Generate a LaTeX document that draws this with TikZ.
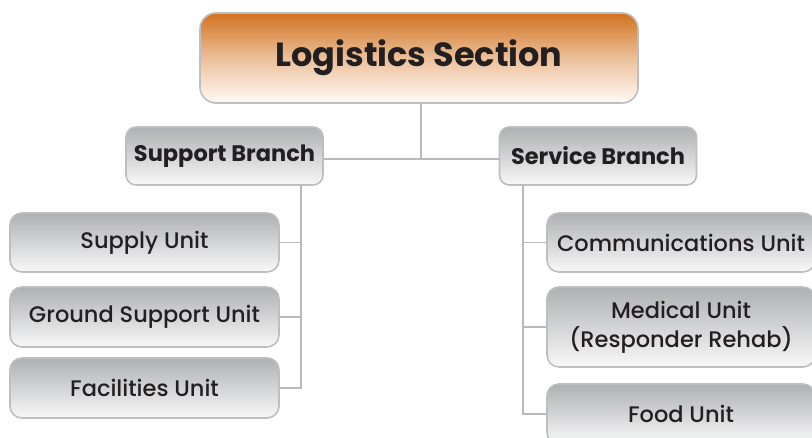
\documentclass[tikz,border=0pt]{standalone}
\usepackage{fontspec}
\setmainfont{Poppins}
\newfontfamily\medfam{Poppins Medium}
\definecolor{edgegray}{HTML}{BEBEC0}
\definecolor{linegray}{HTML}{B9B9BC}
\definecolor{topgray}{HTML}{AFB0B3}
\definecolor{botgray}{HTML}{F8F8F8}
\definecolor{toporange}{HTML}{D2721F}
\definecolor{botorange}{HTML}{FFFAF5}
\definecolor{txt}{HTML}{231F20}
\tikzset{
  boxbase/.style={draw=edgegray, line width=1.6pt, inner sep=0pt, align=center, text=txt},
  grayshade/.style={top color=topgray, bottom color=botgray},
  headbox/.style={boxbase, rounded corners=16pt, top color=toporange, bottom color=botorange,
     middle color={toporange!45!white}, minimum width=438pt, minimum height=90pt,
     font=\bfseries\fontsize{33.5}{38}\selectfont},
  branchbox/.style={boxbase, grayshade, rounded corners=10pt, minimum width=197pt, minimum height=58pt,
     font=\bfseries\fontsize{22.5}{26}\selectfont},
  unitbox/.style={boxbase, grayshade, rounded corners=12pt, minimum width=269pt,
     font=\medfam\fontsize{22.5}{29}\selectfont},
  conn/.style={draw=linegray, line width=1.8pt}
}
\begin{document}
\begin{tikzpicture}[x=1pt,y=-1pt]
\useasboundingbox (0,0) rectangle (812,438);
\clip (0,0) rectangle (812,438);
\node[headbox] (head) at (419,58) {Logistics Section};
\node[branchbox] (support) at (224.5,156) {Support Branch};
\node[branchbox] (service) at (598,156) {Service Branch};
\node[unitbox, minimum height=59pt] (supply) at (144.5,242.5) {Supply Unit};
\node[unitbox, minimum height=60pt] (ground) at (144.5,317) {Ground Support Unit};
\node[unitbox, minimum height=60pt] (facil) at (144.5,388) {Facilities Unit};
\node[unitbox, minimum width=268pt, minimum height=59pt] (comm) at (681,242.5) {Communications Unit};
\node[unitbox, minimum width=268pt, minimum height=80pt] (medical) at (681,327) {Medical Unit\\(Responder Rehab)};
\node[unitbox, minimum width=268pt, minimum height=60pt] (food) at (681,414) {Food Unit};
\coordinate (hj) at (421,159);
\coordinate (sv) at (301,185);
\coordinate (rv) at (523,185);
\draw[conn] (head.south -| hj) -- (hj);
\draw[conn] (support.east |- hj) -- (service.west |- hj);
\draw[conn] (sv) |- (facil.east);
\draw[conn] (supply.east) -- (supply.east -| sv);
\draw[conn] (ground.east) -- (ground.east -| sv);
\draw[conn] (rv) |- (food.west);
\draw[conn] (comm.west) -- (comm.west -| rv);
\draw[conn] (medical.west) -- (medical.west -| rv);
\end{tikzpicture}
\end{document}
